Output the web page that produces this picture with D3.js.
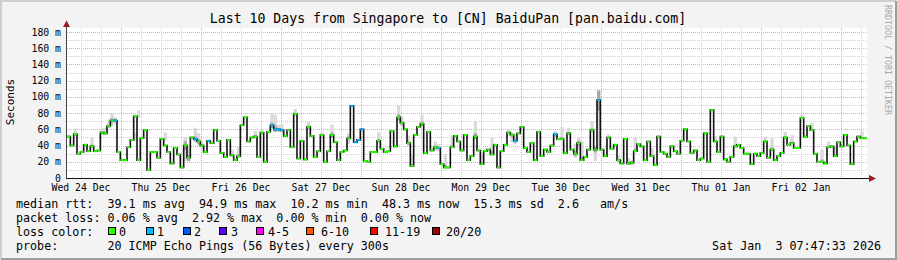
<!DOCTYPE html>
<html>
<head>
<meta charset="utf-8">
<script src="https://cdn.jsdelivr.net/npm/d3@7"></script>
<style>
  body { margin: 0; background: #f3f3f3; }
  text { font-family: "DejaVu Sans Mono", monospace; }
</style>
</head>
<body>
<script>
var title = "Last 10 Days from Singapore to [CN] BaiduPan [pan.baidu.com]";
var yTicks = [0, 20, 40, 60, 80, 100, 120, 140, 160, 180];

// median rtt in ms, one value per hour, oldest first
var median = [
  51, 40, 54, 30, 32, 41, 33, 39, 33, 34, 56, 55, 64, 71, 71, 32, 22, 22, 38, 47,
  76, 22, 49, 59, 10, 32, 32, 25, 48, 40, 32,
  18, 37, 29, 13, 40, 25, 50, 48, 45, 40, 32, 46, 43, 59, 46, 31, 26, 47, 28, 22,
  27, 65, 75, 45, 50, 51, 26, 56, 20, 57, 65, 60, 60,
  59, 52, 59, 38, 79, 24, 46, 23, 63, 52, 26, 33, 53, 20, 33, 53, 44, 22, 32, 34,
  49, 89, 44, 47, 60, 21, 20, 32, 32, 46, 36, 32, 33, 58, 39, 75, 68, 60, 43, 15,
  53, 63, 67, 31, 57, 34, 38, 37, 17, 13, 13, 38, 52, 45, 34, 53, 22, 27, 51, 34,
  17, 33, 35, 29, 41, 13, 33, 41, 56, 53, 46, 55, 63, 37, 32, 43, 22, 57, 27, 35,
  32, 40, 54, 48,
  48, 31, 55, 35, 30, 43, 22, 26, 35, 59, 35, 96, 35, 27, 50, 36, 41, 22, 18, 48,
  18, 19, 33, 42, 39, 22, 45, 27, 16, 51, 32, 30, 26,
  39, 33, 30, 46, 60, 45, 31, 34, 22, 24, 55, 20, 84, 45, 32, 51, 23, 20, 26, 39,
  41, 37, 30, 30, 17, 30, 27, 31, 45, 25, 35, 22, 27, 31, 50, 41, 43, 37, 37, 74,
  51, 64, 59, 30, 20, 20, 18, 38, 39, 27, 44, 39, 53, 40, 17, 45, 51, 49, 49
];

// [sample index, lost pings]
var lossSamples = [[14, 1], [38, 1], [42, 1], [61, 1], [62, 1], [63, 1], [64, 1],
  [85, 1], [86, 1], [87, 1], [88, 1], [111, 1], [134, 1], [146, 1], [159, 1]];

// [sample index, lowest ping, highest ping] where the smoke shows
var smoke = [
  [2, 52, 61], [7, 38, 50], [10, 55, 62], [11, 54, 62], [12, 62, 72], [13, 64, 79],
  [14, 66, 75], [20, 45, 56], [21, 74, 83], [29, 46, 56],
  [35, 21, 50], [36, 20, 40], [38, 45, 62], [39, 40, 55], [40, 36, 45], [49, 26, 35],
  [51, 25, 38], [56, 49, 58], [61, 62, 80], [62, 57, 78], [63, 57, 66], [64, 56, 66],
  [68, 76, 85], [72, 60, 70], [76, 50, 57], [79, 50, 66], [84, 42, 55], [93, 44, 56],
  [99, 70, 90], [100, 64, 76], [102, 40, 52], [103, 15, 28], [106, 64, 78],
  [110, 34, 45], [111, 33, 42], [113, 13, 30], [115, 38, 52], [122, 48, 70],
  [124, 17, 30], [127, 29, 50], [132, 56, 60], [133, 44, 56], [134, 42, 54],
  [146, 50, 58], [148, 48, 63], [150, 53, 62], [152, 25, 42], [153, 35, 50],
  [154, 22, 45], [157, 57, 70], [158, 21, 40], [159, 36, 108], [162, 50, 54],
  [165, 20, 28], [168, 16, 25], [169, 16, 22], [170, 33, 50], [175, 27, 37],
  [194, 45, 52], [200, 39, 51], [209, 45, 51], [211, 35, 49], [215, 50, 57],
  [217, 43, 53], [220, 74, 78], [223, 59, 68], [226, 20, 35], [228, 38, 45],
  [230, 27, 38], [238, 49, 58]
];

var lossLabels = ["0", "1", "2", "3", "4-5", "6-10", "11-19", "20/20"];
var lossColors = ["#26ff00", "#00b8ff", "#0059ff", "#5e00ff", "#ff00ff", "#ff5500", "#ff0000", "#a00000"];

var statLines = [
  "median rtt:  39.1 ms avg  94.9 ms max  10.2 ms min  48.3 ms now  15.3 ms sd  2.6   am/s",
  "packet loss: 0.06 % avg  2.92 % max  0.00 % min  0.00 % now",
  "loss color:",
  "probe:       20 ICMP Echo Pings (56 Bytes) every 300s"
];
var stamp = "Sat Jan  3 07:47:33 2026";

var endTime = new Date(2026, 0, 3, 7, 47, 33);
var startTime = new Date(endTime.getTime() - 10 * 86400000);
var hour = 3600000;

var W = 897, H = 260;
var plotL = 67, plotR = 867, plotT = 28, plotB = 178;

var svg = d3.select("body").append("svg").attr("width", W).attr("height", H);

// frame
svg.append("rect").attr("width", W).attr("height", H).attr("fill", "#f3f3f3");
svg.append("path").attr("d", "M1,259V1H896").attr("fill", "none").attr("stroke", "#cfcfcf").attr("stroke-width", 2);
svg.append("path").attr("d", "M1,259H896V1").attr("fill", "none").attr("stroke", "#9e9e9e").attr("stroke-width", 2);

svg.append("rect").attr("x", plotL).attr("y", plotT).attr("width", plotR - plotL).attr("height", plotB - plotT).attr("fill", "#fff");

var x = d3.scaleTime().domain([startTime, endTime]).range([plotL, plotR]);
var y = d3.scaleLinear().domain([0, 185]).range([plotB, plotT]);

function tAt(i) { return new Date(startTime.getTime() + i * hour); }

// grid
var grid = svg.append("g").attr("stroke-dasharray", "1,1").attr("fill", "none");
d3.range(10, 185, 10).forEach(function (v) {
  var yy = Math.round(y(v)) + 0.5;
  grid.append("line").attr("x1", plotL).attr("x2", plotR).attr("y1", yy).attr("y2", yy)
    .attr("stroke", v % 20 ? "#d0d0d0" : "#f4a3a3");
});
d3.timeHour.every(6).range(startTime, endTime).forEach(function (t) {
  var xx = Math.round(x(t)) + 0.5;
  if (xx <= plotL + 1) return;
  grid.append("line").attr("x1", xx).attr("x2", xx).attr("y1", plotT).attr("y2", plotB)
    .attr("stroke", t.getHours() === 0 ? "#f4a3a3" : "#d0d0d0");
});

// smoke
var sg = svg.append("g");
smoke.forEach(function (s) {
  var i = s[0];
  var x0 = x(tAt(i)), x1 = Math.min(x(tAt(i + 1)), plotR);
  sg.append("rect").attr("x", x0).attr("width", x1 - x0)
    .attr("y", y(s[2])).attr("height", y(s[1]) - y(s[2])).attr("fill", "#dadada");
  var m = median[i], r = (s[2] - s[1]) * 0.18;
  var hi = Math.min(s[2], m + r), lo = Math.max(s[1], m - r);
  sg.append("rect").attr("x", x0).attr("width", x1 - x0)
    .attr("y", y(hi)).attr("height", y(lo) - y(hi)).attr("fill", "#a8a8a8");
});

// median step line
var pts = median.map(function (v, i) { return [tAt(i), v]; });
pts.push([endTime, median[median.length - 1]]);
var line = d3.line()
  .x(function (d) { return Math.min(x(d[0]), plotR); })
  .y(function (d) { return y(d[1]); })
  .curve(d3.curveStepAfter);
svg.append("path").datum(pts).attr("d", line).attr("fill", "none").attr("stroke", "#111").attr("stroke-width", 1.6);

var lossMap = {};
lossSamples.forEach(function (l) { lossMap[l[0]] = l[1]; });
svg.append("g").selectAll("rect").data(median).enter().append("rect")
  .attr("x", function (d, i) { return x(tAt(i)); })
  .attr("width", function (d, i) { return Math.min(x(tAt(i + 1)), plotR) - x(tAt(i)); })
  .attr("y", function (d) { return y(d) - 1; })
  .attr("height", 2)
  .attr("fill", function (d, i) { return lossColors[lossMap[i] || 0]; });

// axes
svg.append("line").attr("x1", plotL - 0.5).attr("x2", plotL - 0.5).attr("y1", plotB).attr("y2", 24).attr("stroke", "#444");
svg.append("line").attr("x1", plotL - 1).attr("x2", 872).attr("y1", plotB + 0.5).attr("y2", plotB + 0.5).attr("stroke", "#111");
svg.append("path").attr("d", "M869,175L876,178.5L869,182Z").attr("fill", "#9b1c1c");
svg.append("path").attr("d", "M63,27L66.5,20.5L70,27Z").attr("fill", "#9b1c1c");

// y labels
svg.append("g").selectAll("text").data(yTicks).enter().append("text")
  .attr("x", 61).attr("y", function (d) { return y(d) + 3.5; })
  .attr("text-anchor", "end").attr("font-size", 9.8).attr("fill", "#000")
  .text(function (d) { return d === 0 ? "0" : d + " m"; });

// x labels at noon
var fmt = d3.timeFormat("%a %d %b");
var noons = d3.timeDay.range(d3.timeDay.floor(startTime), endTime)
  .map(function (d) { return d3.timeHour.offset(d, 12); })
  .filter(function (d) { return d > startTime && d < endTime; });
svg.append("g").selectAll("text").data(noons).enter().append("text")
  .attr("x", function (d) { return x(d); }).attr("y", 190.5)
  .attr("text-anchor", "middle").attr("font-size", 9.8).text(fmt);

// title
svg.append("text").attr("x", 448).attr("y", 23).attr("text-anchor", "middle").attr("font-size", 13.2).text(title);

// y axis title
svg.append("text").attr("transform", "translate(14,102) rotate(-90)").attr("text-anchor", "middle")
  .attr("font-size", 11).text("Seconds");

// credit
svg.append("text").attr("transform", "translate(884.5,5) rotate(90)").attr("font-size", 8.3)
  .attr("fill", "#a8a8a8").text("RRDTOOL / TOBI OETIKER");

// legend text
svg.append("g").selectAll("text").data(statLines).enter().append("text")
  .attr("x", 16).attr("y", function (d, i) { return 207.5 + i * 14; })
  .attr("font-size", 11.7).style("white-space", "pre").text(function (d) { return d; });

svg.append("text").attr("x", 881).attr("y", 249.5).attr("text-anchor", "end")
  .attr("font-size", 11.7).style("white-space", "pre").text(stamp);

// loss colour boxes
var boxX = [108, 146, 183, 219, 256, 306, 370, 432];
var labX = [119, 157, 194, 231, 268, 321, 385, 446];
var lg = svg.append("g");
lossLabels.forEach(function (l, i) {
  lg.append("rect").attr("x", boxX[i] + 0.5).attr("y", 227.5).attr("width", 7).attr("height", 7)
    .attr("fill", lossColors[i]).attr("stroke", "#000").attr("stroke-width", 1);
  lg.append("text").attr("x", labX[i]).attr("y", 235.5).attr("font-size", 11.7).text(l);
});
</script>
</body>
</html>
